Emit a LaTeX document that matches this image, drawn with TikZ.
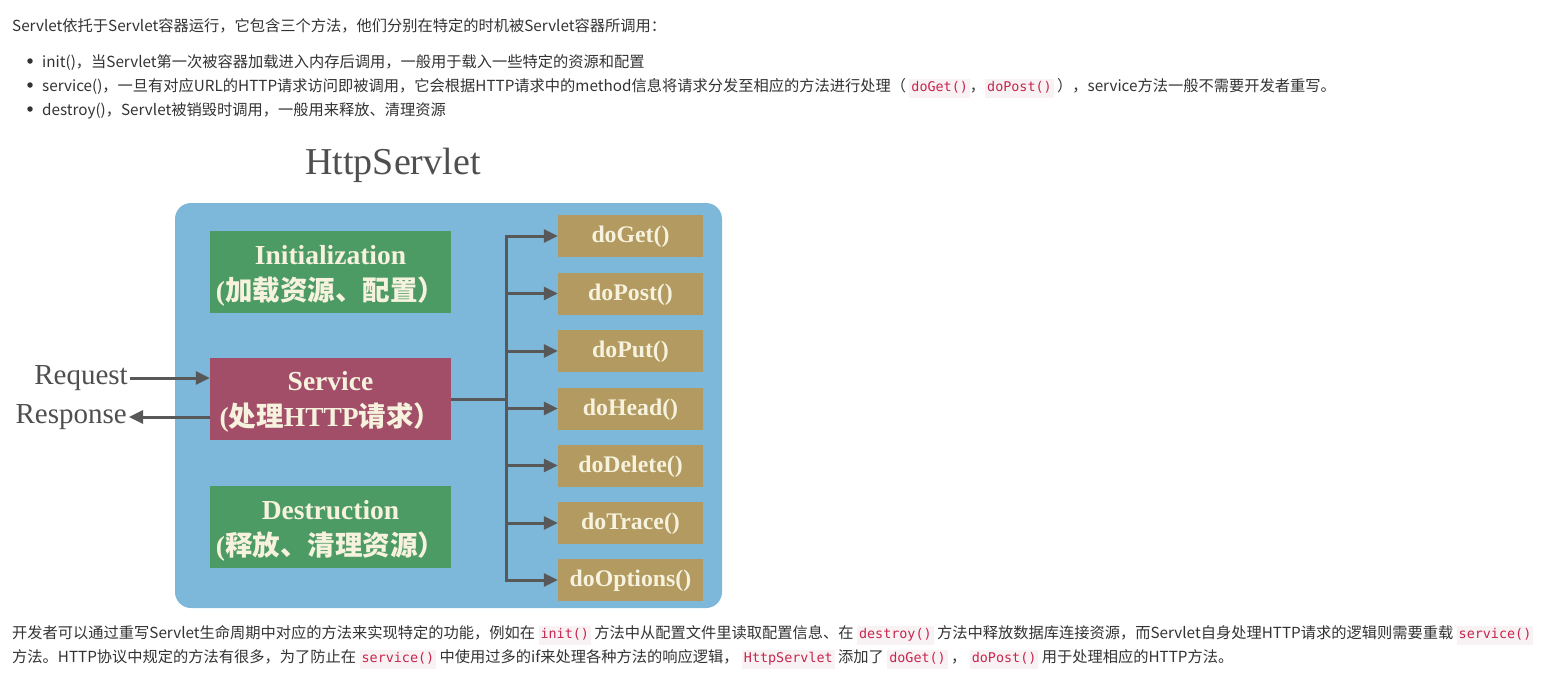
\documentclass[tikz,border=0pt]{standalone}
\usepackage{fontspec}
\usepackage{xcolor}
\usetikzlibrary{arrows.meta}
\setmainfont{Liberation Serif}
\newfontfamily\cjk{Noto Sans CJK SC}
\newfontfamily\codefont{DejaVu Sans Mono}
\definecolor{txt}{HTML}{333333}
\definecolor{codefg}{HTML}{C7254E}
\definecolor{codebg}{HTML}{F9F2F4}
\definecolor{panelblue}{HTML}{7DB8DA}
\definecolor{boxgreen}{HTML}{4D9B64}
\definecolor{boxred}{HTML}{A24E69}
\definecolor{boxgold}{HTML}{B29A60}
\definecolor{cream}{HTML}{F6F2DE}
\definecolor{arrowgray}{HTML}{585858}
\definecolor{labelgray}{HTML}{4F4F4F}
\newcommand\code[1]{{\setlength\fboxsep{2pt}\colorbox{codebg}{\codefont\fontsize{13.4}{15}\selectfont\color{codefg}\strut #1}}}
\tikzset{
  bodytext/.style={anchor=base west, inner sep=0pt, font=\cjk\fontsize{15.25}{18}\selectfont, text=txt},
  bulletdot/.style={circle, fill=txt, inner sep=0pt, minimum size=5.5pt},
  panel/.style={fill=panelblue, rounded corners=16pt, minimum width=547pt, minimum height=405pt, inner sep=0pt},
  phase/.style={minimum width=241pt, minimum height=82pt, inner sep=0pt},
  phasetext/.style={inner sep=0pt, text=cream, align=center, font=\fontsize{27.5}{36}\selectfont\bfseries},
  method/.style={fill=boxgold, minimum width=145pt, minimum height=42pt, inner sep=0pt, text=cream, font=\fontsize{23.8}{26}\selectfont\bfseries, text depth=3pt},
  conn/.style={draw=arrowgray, line width=3pt},
  arr/.style={conn, -{Triangle[length=14pt,width=13pt]}},
  lbl/.style={inner sep=2pt, text=labelgray, font=\fontsize{29}{32}\selectfont}
}
\begin{document}
\begin{tikzpicture}[x=1pt,y=-1pt]
\useasboundingbox (0,0) rectangle (1543,681);
\fill[white] (0,0) rectangle (1543,681);

% top text
\node[bodytext] (l1) at (12,31.5) {Servlet依托于Servlet容器运行，它包含三个方法，他们分别在特定的时机被Servlet容器所调用：};
\node[bulletdot] (b1) at (30,61) {};
\node[bodytext] (l2) at (42,67) {init()，当Servlet第一次被容器加载进入内存后调用，一般用于载入一些特定的资源和配置};
\node[bulletdot] (b2) at (30,85) {};
\node[bodytext] (l3) at (42,91) {service()，一旦有对应URL的HTTP请求访问即被调用，它会根据HTTP请求中的method信息将请求分发至相应的方法进行处理（ \code{doGet()}，\code{doPost()} ），service方法一般不需要开发者重写。};
\node[bulletdot] (b3) at (30,109) {};
\node[bodytext] (l4) at (42,115) {destroy()，Servlet被销毁时调用，一般用来释放、清理资源};

% diagram
\node[text=labelgray, font=\fontsize{38}{40}\selectfont, anchor=base] (title) at (393,174) {HttpServlet};
\node[panel] (pnl) at (448.5,405.5) {};

\node[phase, fill=boxgreen] (init) at (330.5,272) {};
\node[phase, fill=boxred] (srv) at (330.5,399) {};
\node[phase, fill=boxgreen] (dest) at (330.5,527) {};
\node[phasetext] (initt) at ([yshift=-4pt]init.center) {Initialization\\({\cjk 加载资源、配置）}};
\node[phasetext] (srvt) at ([yshift=-3pt]srv.center) {Service\\({\cjk 处理}HTTP{\cjk 请求）}};
\node[phasetext] (destt) at ([yshift=-4pt]dest.center) {Destruction\\({\cjk 释放、清理资源）}};

\node[method] (m1) at (630.5,236) {doGet()};
\node[method] (m2) at (630.5,293.5) {doPost()};
\node[method] (m3) at (630.5,351) {doPut()};
\node[method] (m4) at (630.5,408.5) {doHead()};
\node[method] (m5) at (630.5,465.5) {doDelete()};
\node[method] (m6) at (630.5,523) {doTrace()};
\node[method] (m7) at (630.5,580) {doOptions()};

\coordinate (tk) at (506,399);
\draw[conn] (srv.east) -- (tk);
\draw[conn, line cap=rect] (tk |- m1.west) -- (tk |- m7.west);
\foreach \m in {m1,m2,m3,m4,m5,m6,m7}
  \draw[arr] (tk |- \m.west) -- (\m.west);

\node[lbl, anchor=east] (req) at (130,378) {Request};
\node[lbl, anchor=east] (resp) at (129,417) {Response};
\draw[arr] (req.east) -- (srv.west |- req.east);
\draw[arr] (srv.west |- resp.east) -- (resp.east);

% bottom text
\node[bodytext] (p1) at (12,638) {开发者可以通过重写Servlet生命周期中对应的方法来实现特定的功能，例如在 \code{init()} 方法中从配置文件里读取配置信息、在 \code{destroy()} 方法中释放数据库连接资源，而Servlet自身处理HTTP请求的逻辑则需要重载 \code{service()}};
\node[bodytext] (p2) at (12,662) {方法。HTTP协议中规定的方法有很多，为了防止在 \code{service()} 中使用过多的if来处理各种方法的响应逻辑， \code{HttpServlet} 添加了 \code{doGet()} ， \code{doPost()} 用于处理相应的HTTP方法。};
\end{tikzpicture}
\end{document}
